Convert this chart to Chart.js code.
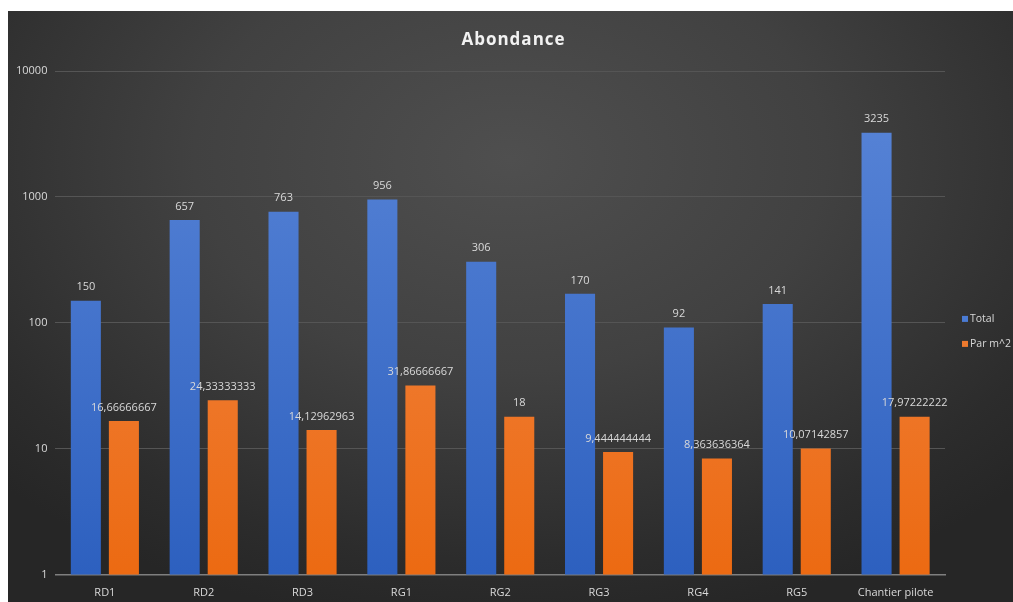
<!DOCTYPE html>
<html>
<head>
<meta charset="utf-8">
<script src="https://cdn.jsdelivr.net/npm/chart.js@4"></script>
<style>
  html, body { margin: 0; padding: 0; background: #fff; }
  #wrap {
    position: absolute; left: 8px; top: 11px; width: 1005px; height: 591px;
    background: radial-gradient(ellipse 70% 80% at 50% 25%, #4f4f4f 0%, #414141 45%, #2c2c2c 85%, #262626 100%);
  }
  canvas { display: block; }
</style>
</head>
<body>
<div id="wrap"><canvas id="chart" width="1005" height="591"></canvas></div>
<script>
const categories = ["RD1", "RD2", "RD3", "RG1", "RG2", "RG3", "RG4", "RG5", "Chantier pilote"];
const totalValues = [150, 657, 763, 956, 306, 170, 92, 141, 3235];
const parM2Values = [16.66666667, 24.33333333, 14.12962963, 31.86666667, 18, 9.444444444, 8.363636364, 10.07142857, 17.97222222];
const yTicks = [1, 10, 100, 1000, 10000];

const FONT = "'Open Sans', 'Noto Sans', sans-serif";
const textColor = "#d9d9d9";
const legendColors = ["#4a7bd4", "#ee7a2e"];

// dégradé vertical sur la zone du graphique
function grad(ctx, top, bottom) {
  const area = ctx.chart.chartArea;
  if (!area) return bottom;
  const g = ctx.chart.ctx.createLinearGradient(0, area.top, 0, area.bottom);
  g.addColorStop(0, top);
  g.addColorStop(1, bottom);
  return g;
}

// étiquettes de valeurs au-dessus des barres
const valueLabels = {
  id: "valueLabels",
  afterDatasetsDraw(chart) {
    const ctx = chart.ctx;
    ctx.save();
    ctx.font = "11px " + FONT;
    ctx.fillStyle = textColor;
    ctx.textAlign = "center";
    ctx.textBaseline = "bottom";
    chart.data.datasets.forEach((ds, i) => {
      const meta = chart.getDatasetMeta(i);
      meta.data.forEach((bar, j) => {
        const txt = String(ds.data[j]).replace(".", ",");
        ctx.fillText(txt, bar.x, bar.y - 8);
      });
    });
    ctx.restore();
  }
};

// titre (avec espacement des lettres) et légende à droite
const titleAndLegend = {
  id: "titleAndLegend",
  afterDraw(chart) {
    const ctx = chart.ctx;
    const area = chart.chartArea;
    ctx.save();
    ctx.fillStyle = "#f2f2f2";
    ctx.font = "bold 17px " + FONT;
    ctx.letterSpacing = "1px";
    ctx.textAlign = "center";
    ctx.textBaseline = "middle";
    ctx.fillText("Abondance", chart.width / 2 + 3, 29);
    ctx.letterSpacing = "0px";

    ctx.font = "10.5px " + FONT;
    ctx.textAlign = "left";
    chart.data.datasets.forEach((ds, i) => {
      const y = (area.top + area.bottom) / 2 - 4 + i * 25;
      const x = area.right + 17;
      ctx.fillStyle = legendColors[i];
      ctx.fillRect(x, y - 3, 6, 6);
      ctx.fillStyle = textColor;
      ctx.fillText(ds.label, x + 8, y);
    });
    ctx.restore();
  }
};

new Chart(document.getElementById("chart"), {
  type: "bar",
  data: {
    labels: categories,
    datasets: [
      {
        label: "Total",
        data: totalValues,
        backgroundColor: (c) => grad(c, "#5a86d8", "#2d60bf"),
        categoryPercentage: 0.77,
        barPercentage: 0.79
      },
      {
        label: "Par m^2",
        data: parM2Values,
        backgroundColor: (c) => grad(c, "#f28c50", "#ec6a12"),
        categoryPercentage: 0.77,
        barPercentage: 0.79
      }
    ]
  },
  options: {
    responsive: false,
    animation: false,
    layout: { padding: { left: 0, right: 68, top: 60, bottom: 0 } },
    plugins: {
      title: { display: false },
      legend: { display: false },
      tooltip: { enabled: false }
    },
    scales: {
      x: {
        grid: { display: false },
        border: { color: "#7f7f7f", width: 1.5 },
        ticks: { color: textColor, font: { family: FONT, size: 11 }, padding: 3 }
      },
      y: {
        type: "logarithmic",
        min: 1,
        max: 10000,
        afterBuildTicks: (scale) => { scale.ticks = yTicks.map((v) => ({ value: v })); },
        grid: { color: "#555555", lineWidth: 1, drawTicks: false },
        border: { display: false },
        ticks: {
          color: textColor,
          font: { family: FONT, size: 11 },
          padding: 8,
          callback: (v) => String(v)
        }
      }
    }
  },
  plugins: [valueLabels, titleAndLegend]
});
</script>
</body>
</html>
